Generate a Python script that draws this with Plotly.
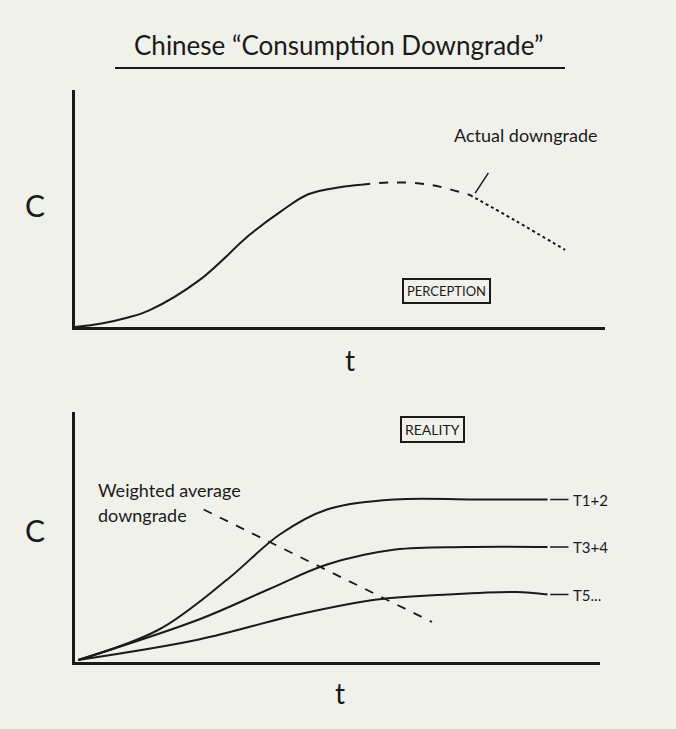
import plotly.graph_objects as go

# ---- data ----
perc_x = [0, 0.5, 1.0, 1.4, 2.36, 3.3, 3.9, 4.4, 5.0, 5.4]
perc_y = [0, 0.15, 0.4, 0.7, 2.0, 3.9, 4.9, 5.6, 5.9, 6.0]
perc_dash_x = [5.4, 6.0, 6.7, 7.45]
perc_dash_y = [6.0, 6.1, 6.0, 5.57]
perc_dot_x = [7.45, 8.3, 9.25]
perc_dot_y = [5.57, 4.5, 3.25]

t12_x = [0.06, 1.6, 2.9, 3.9, 4.8, 6.1, 7.6, 9.0]
t12_y = [0.08, 1.3, 3.3, 5.1, 6.1, 6.5, 6.5, 6.5]
t34_x = [0.06, 2.36, 3.68, 4.8, 6.1, 7.45, 9.0]
t34_y = [0.08, 1.7, 2.9, 3.9, 4.5, 4.6, 4.6]
t5_x = [0.06, 2.36, 4.25, 5.75, 7.08, 8.4, 9.0]
t5_y = [0.08, 0.9, 1.9, 2.5, 2.7, 2.8, 2.7]
wavg_x = [2.45, 6.8]
wavg_y = [6.1, 1.6]
series_labels = ["T1+2", "T3+4", "T5..."]

FONT = "Lato"
ink = "#1a1a1a"
BG = "#f1f1ec"
fig = go.Figure()

def line(x, y, xa, ya, dash="solid", w=2):
    fig.add_trace(go.Scatter(x=x, y=y, xaxis=xa, yaxis=ya, mode="lines",
                             line=dict(color=ink, width=w, dash=dash, shape="spline"),
                             showlegend=False, hoverinfo="skip"))

line(perc_x, perc_y, "x", "y")
line(perc_dash_x, perc_dash_y, "x", "y", dash="dash")
line(perc_dot_x, perc_dot_y, "x", "y", dash="dot")
for xs, ys in [(t12_x, t12_y), (t34_x, t34_y), (t5_x, t5_y)]:
    line(xs, ys, "x2", "y2")
line(wavg_x, wavg_y, "x2", "y2", dash="dash", w=1.8)

ax = dict(range=[0, 10], showgrid=False, zeroline=False, showticklabels=False,
          ticks="", showline=True, linecolor=ink, linewidth=2.5, mirror=False, fixedrange=True)
fig.update_layout(
    width=676, height=729, margin=dict(l=0, r=0, t=0, b=0),
    paper_bgcolor=BG, plot_bgcolor="rgba(0,0,0,0)",
    xaxis=dict(ax, domain=[75/676, 605/676], anchor="y"),
    yaxis=dict(ax, domain=[1-327/729, 1-90/729], anchor="x"),
    xaxis2=dict(ax, domain=[75/676, 600/676], anchor="y2"),
    yaxis2=dict(ax, domain=[1-662/729, 1-412/729], anchor="x2"),
    font=dict(family=FONT, color=ink),
)

def txt(x, y, s, size=18, xref="x", yref="y", xanchor="center", **kw):
    fig.add_annotation(x=x, y=y, xref=xref, yref=yref, text=s, showarrow=False,
                       font=dict(size=size, family=FONT, color=ink), xanchor=xanchor,
                       yanchor="middle", **kw)

P = dict(xref="paper", yref="paper")
txt(0.5, 1-45/729, "Chinese \u201cConsumption Downgrade\u201d", size=26, **P)
fig.add_shape(type="line", x0=115/676, x1=565/676, y0=1-68/729, y1=1-68/729,
              line=dict(color=ink, width=2), **P)
txt(35/676, 1-205/729, "C", size=30, **P)
txt(350/676, 1-360/729, "t", size=28, **P)
txt(35/676, 1-530/729, "C", size=30, **P)
txt(340/676, 1-693/729, "t", size=28, **P)

txt(8.5, 8.1, "Actual downgrade", size=18)
fig.add_shape(type="line", xref="x", yref="y", x0=7.8, y0=6.5, x1=7.55, y1=5.65,
              line=dict(color=ink, width=1.5))
txt(7.0, 1.5, "PERCEPTION", size=13, bordercolor=ink, borderwidth=2, borderpad=3)

B = dict(xref="x2", yref="y2")
txt(6.8, 9.3, "REALITY", size=14, bordercolor=ink, borderwidth=2, borderpad=3, **B)
txt(0.4, 6.9, "Weighted average", size=18, xanchor="left", **B)
txt(0.4, 5.9, "downgrade", size=18, xanchor="left", **B)
for lab, yv in zip(series_labels, [t12_y[-1], t34_y[-1], t5_y[-1]]):
    txt(9.45, yv, lab, size=15, xanchor="left", **B)
    fig.add_shape(type="line", x0=9.05, x1=9.4, y0=yv, y1=yv, line=dict(color=ink, width=1.5), **B)

fig.write_html("out.html", config={"displayModeBar": False},
               post_script=f"document.body.style.margin='0';document.body.style.background='{BG}';")
